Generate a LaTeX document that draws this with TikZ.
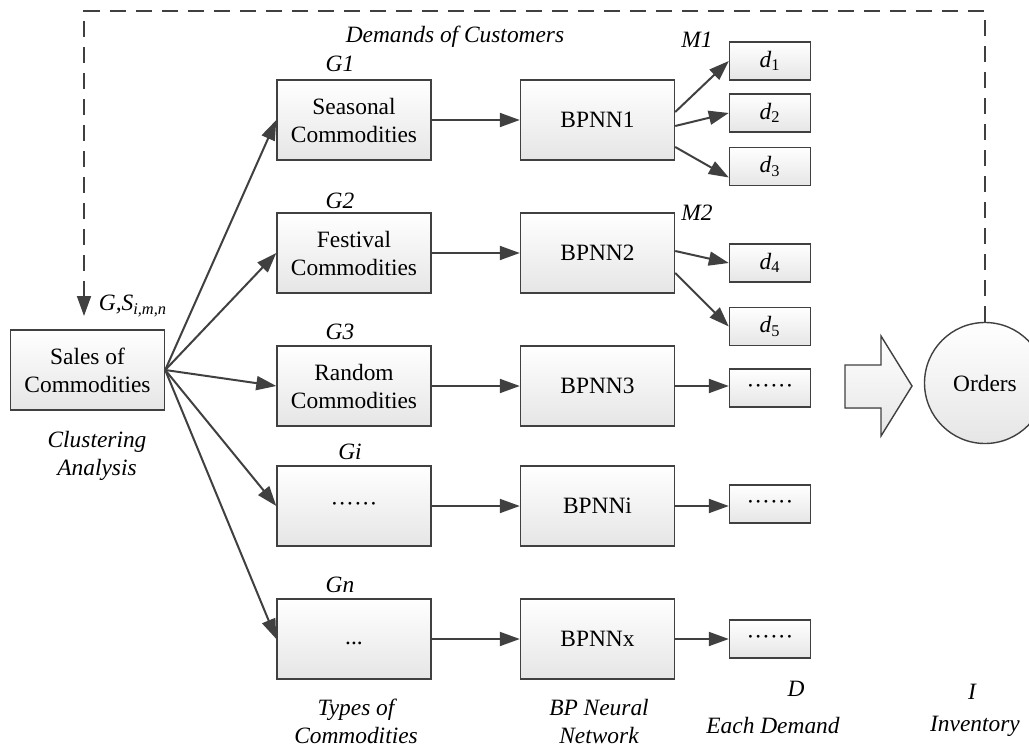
\documentclass[tikz,border=0pt]{standalone}
\usepackage{fontspec}
\setmainfont{Liberation Serif}
\usetikzlibrary{arrows.meta}

\begin{document}
\begin{tikzpicture}[x=0.5pt, y=-0.5pt,
  every node/.style={font=\fontsize{11.7}{14}\selectfont},
  box/.style={draw=black!75, line width=0.7pt, top color=white, bottom color=black!10, minimum width=77pt, minimum height=40pt, align=center, inner sep=1pt},
  dbox/.style={box, minimum width=40.5pt, minimum height=19pt},
  lab/.style={font=\fontsize{11.7}{14}\selectfont\itshape, align=center},
  arr/.style={draw=black!75, line width=1pt, -{Triangle[length=10pt,width=7pt]}}]
  \useasboundingbox (0,0) rectangle (1029,749);
  % clustering
  \node[box] (sales) at (87.5,370) {Sales of\\Commodities};
  \node[box] (g1) at (354,120) {Seasonal\\Commodities};
  \node[box] (g2) at (354,253) {Festival\\Commodities};
  \node[box] (g3) at (354,386) {Random\\Commodities};
  \node[box] (gi) at (354,506) {\strut······};
  \node[box] (gn) at (354,639) {\strut...};
  % networks
  \node[box] (b1) at (597.5,120) {BPNN1};
  \node[box] (b2) at (597.5,253) {BPNN2};
  \node[box] (b3) at (597.5,386) {BPNN3};
  \node[box] (bi) at (597.5,506) {BPNNi};
  \node[box] (bx) at (597.5,639) {BPNNx};
  % demands
  \node[dbox] (d1) at (770,61) {\textit{d}\textsubscript{1}};
  \node[dbox] (d2) at (770,113) {\textit{d}\textsubscript{2}};
  \node[dbox] (d3) at (770,166.5) {\textit{d}\textsubscript{3}};
  \node[dbox] (d4) at (770,263) {\textit{d}\textsubscript{4}};
  \node[dbox] (d5) at (770,326.5) {\textit{d}\textsubscript{5}};
  \node[dbox] (d6) at (770,388) {\strut······};
  \node[dbox] (d7) at (770,504) {\strut······};
  \node[dbox] (d8) at (770,639) {\strut······};
  \node[draw=black!75, line width=0.7pt, circle, top color=white, bottom color=black!10, minimum size=60.5pt] (ord) at (985,383) {Orders};
  \filldraw[draw=black!75, line width=0.7pt, top color=white, bottom color=black!10] (845,365) -- (881,365) -- (881,336) -- (912,386) -- (881,436) -- (881,408) -- (845,408) -- cycle;
  % labels
  \node[lab] (dem) at (455,37) {Demands of Customers};
  \node[lab] (lg1) at (340,64) {G1};
  \node[lab] (lg2) at (340,201) {G2};
  \node[lab] (lg3) at (340,332) {G3};
  \node[lab] (lgi) at (350,452) {Gi};
  \node[lab] (lgn) at (340,585) {Gn};
  \node[lab] (lm1) at (697,40) {M1};
  \node[lab] (lm2) at (697,213) {M2};
  \node[lab] (lgs) at (133,306) {G,S\textsubscript{i,m,n}};
  \node[lab] (clu) at (97,456) {Clustering\\Analysis};
  \node[lab] (typ) at (356,721) {Types of\\Commodities};
  \node[lab] (bpn) at (599,721) {BP Neural\\Network};
  \node[lab] (ld) at (796,689) {D};
  \node[lab] (each) at (773,725) {Each Demand};
  \node[lab] (li) at (972,692) {I};
  \node[lab] (inv) at (975,726) {Inventory};
  % connectors
  \foreach \g in {g1,g2,g3,gi,gn}
    \draw[arr] (sales.east) -- (\g.west);
  \foreach \g/\b in {g1/b1,g2/b2,g3/b3,gi/bi,gn/bx}
    \draw[arr] (\g.east) -- (\b.west);
  \draw[arr] ([yshift=4pt]b1.east) -- (d1.west);
  \draw[arr] ([yshift=-3pt]b1.east) -- (d2.west);
  \draw[arr] ([yshift=-13.5pt]b1.east) -- ([yshift=-5.5pt]d3.west);
  \draw[arr] ([yshift=1pt]b2.east) -- (d4.west);
  \draw[arr] ([yshift=-10pt]b2.east) -- (d5.west);
  \draw[arr] (b3.east) -- (b3.east -| d6.west);
  \draw[arr] (bi.east) -- (bi.east -| d7.west);
  \draw[arr] (bx.east) -- (d8.west);
  % feedback
  \coordinate (top) at (0,11);
  \coordinate (fb) at (84,316);
  \draw[arr, line width=0.9pt, dash pattern=on 8pt off 5pt] (ord.north) -- (ord.north |- top) -| (fb);
\end{tikzpicture}
\end{document}
